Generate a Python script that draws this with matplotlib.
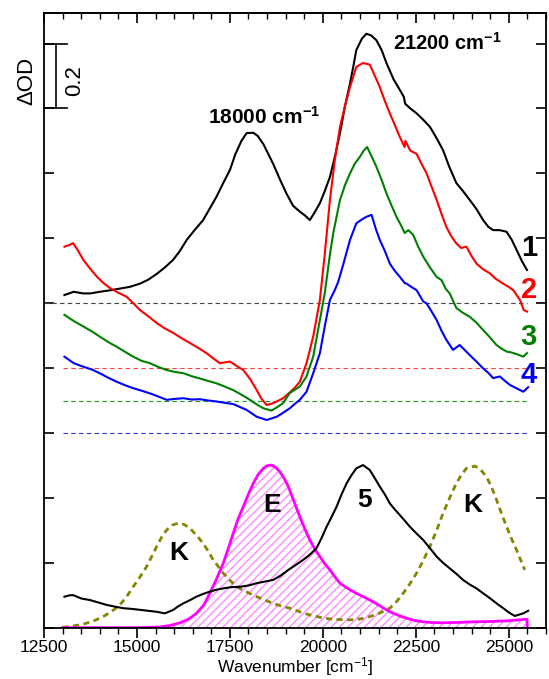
import numpy as np
import matplotlib
matplotlib.use('Agg')
import matplotlib.pyplot as plt
from matplotlib.ticker import MultipleLocator

plt.rcParams['font.family'] = ['Liberation Sans', 'DejaVu Sans']
plt.rcParams['mathtext.default'] = 'regular'

# spectrum 1 (black, offset 1.0)
c1_x = [13050, 13300, 13550, 13750, 14000, 14300, 14550, 14800, 15080, 15300, 15530, 15750,
        15970, 16150, 16340, 16550, 16780, 16950, 17140, 17320, 17500, 17650, 17810, 17950,
        18130, 18250, 18400, 18530, 18660, 18850, 19020, 19200, 19380, 19520, 19650, 19780,
        19920, 20050, 20190, 20320, 20460, 20600, 20730, 20820, 20900, 21050, 21170, 21300,
        21440, 21580, 21710, 21900, 22070, 22180, 22210, 22350, 22520, 22700, 22880, 23050,
        23230, 23400, 23590, 23770, 23950, 24130, 24310, 24450, 24580, 24750, 24940, 25080,
        25210, 25350, 25490]
c1_y = [1.025, 1.035, 1.030, 1.030, 1.035, 1.040, 1.045, 1.050, 1.060, 1.072, 1.090, 1.110,
        1.133, 1.160, 1.195, 1.225, 1.256, 1.290, 1.328, 1.370, 1.410, 1.460, 1.500, 1.524,
        1.525, 1.515, 1.490, 1.460, 1.430, 1.380, 1.338, 1.300, 1.282, 1.270, 1.256, 1.280,
        1.308, 1.345, 1.389, 1.450, 1.524, 1.610, 1.677, 1.730, 1.780, 1.815, 1.830, 1.825,
        1.810, 1.780, 1.740, 1.690, 1.657, 1.635, 1.615, 1.600, 1.585, 1.565, 1.543, 1.510,
        1.472, 1.420, 1.370, 1.345, 1.318, 1.290, 1.256, 1.235, 1.225, 1.225, 1.220, 1.195,
        1.164, 1.130, 1.102]

# spectrum 2 (red, offset 0.8)
c2_x = [13050, 13200, 13280, 13400, 13560, 13750, 13920, 14100, 14270, 14500, 14720, 14900,
        15080, 15300, 15530, 15750, 15980, 16200, 16430, 16650, 16870, 17050, 17230, 17500,
        17700, 17860, 18050, 18220, 18350, 18490, 18620, 18760, 18930, 19110, 19250, 19380,
        19560, 19740, 19920, 20050, 20190, 20320, 20460, 20600, 20730, 20900, 21080, 21260,
        21400, 21530, 21660, 21800, 21950, 22070, 22200, 22220, 22350, 22520, 22650, 22790,
        22920, 23060, 23190, 23320, 23460, 23590, 23720, 23860, 24000, 24130, 24300, 24490,
        24650, 24850, 25000, 25120, 25300, 25400, 25490]
c2_y = [1.174, 1.180, 1.185, 1.165, 1.133, 1.105, 1.082, 1.062, 1.047, 1.032, 1.020, 1.000,
        0.979, 0.960, 0.939, 0.922, 0.908, 0.892, 0.877, 0.862, 0.846, 0.830, 0.815, 0.820,
        0.805, 0.794, 0.765, 0.732, 0.705, 0.686, 0.690, 0.697, 0.707, 0.725, 0.740, 0.758,
        0.815, 0.897, 1.010, 1.150, 1.318, 1.440, 1.543, 1.610, 1.666, 1.728, 1.740, 1.735,
        1.700, 1.666, 1.625, 1.585, 1.545, 1.512, 1.481, 1.500, 1.470, 1.460, 1.430, 1.400,
        1.360, 1.318, 1.275, 1.235, 1.205, 1.184, 1.170, 1.174, 1.145, 1.122, 1.105, 1.092,
        1.075, 1.060, 1.050, 1.040, 1.010, 0.979, 0.974]

# spectrum 3 (green, offset 0.7)
c3_x = [13050, 13300, 13560, 13800, 14000, 14230, 14450, 14680, 14900, 15130, 15350, 15580,
        15800, 16020, 16250, 16470, 16690, 16920, 17140, 17360, 17590, 17810, 18040, 18220,
        18400, 18620, 18780, 18930, 19110, 19380, 19560, 19740, 19920, 20050, 20190, 20280,
        20460, 20600, 20730, 20860, 20990, 21100, 21190, 21320, 21440, 21580, 21710, 21850,
        21980, 22100, 22200, 22300, 22430, 22560, 22700, 22880, 23060, 23190, 23300, 23410,
        23590, 23770, 23950, 24130, 24310, 24490, 24670, 24800, 24940, 25070, 25210, 25390,
        25490]
c3_y = [0.964, 0.945, 0.928, 0.912, 0.897, 0.880, 0.866, 0.850, 0.835, 0.822, 0.815, 0.803,
        0.794, 0.788, 0.784, 0.775, 0.768, 0.760, 0.753, 0.743, 0.732, 0.718, 0.702, 0.688,
        0.676, 0.669, 0.680, 0.692, 0.723, 0.743, 0.774, 0.835, 0.948, 1.030, 1.150, 1.216,
        1.318, 1.365, 1.400, 1.430, 1.450, 1.470, 1.481, 1.450, 1.420, 1.380, 1.338, 1.300,
        1.266, 1.240, 1.216, 1.225, 1.210, 1.175, 1.143, 1.110, 1.081, 1.071, 1.045, 1.030,
        0.985, 0.970, 0.958, 0.940, 0.917, 0.895, 0.871, 0.860, 0.851, 0.848, 0.843, 0.835,
        0.846]

# spectrum 4 (blue, offset 0.6)
c4_x = [13050, 13300, 13560, 13800, 14000, 14230, 14450, 14680, 14900, 15130, 15350, 15580,
        15800, 16020, 16250, 16470, 16690, 16920, 17140, 17360, 17590, 17770, 17950, 18220,
        18490, 18760, 18930, 19110, 19250, 19380, 19560, 19740, 19920, 20050, 20190, 20320,
        20410, 20550, 20730, 20900, 21050, 21170, 21310, 21420, 21530, 21670, 21800, 21930,
        22070, 22200, 22250, 22380, 22520, 22700, 22790, 22920, 23060, 23190, 23320, 23500,
        23680, 23820, 23950, 24130, 24310, 24450, 24580, 24760, 24900, 25030, 25200, 25390,
        25520]
c4_y = [0.835, 0.815, 0.804, 0.795, 0.784, 0.770, 0.758, 0.747, 0.738, 0.730, 0.722, 0.712,
        0.702, 0.705, 0.707, 0.703, 0.704, 0.700, 0.697, 0.693, 0.689, 0.680, 0.671, 0.650,
        0.640, 0.650, 0.662, 0.676, 0.690, 0.702, 0.727, 0.784, 0.846, 0.928, 1.010, 1.040,
        1.065, 1.120, 1.195, 1.246, 1.258, 1.266, 1.272, 1.230, 1.195, 1.160, 1.122, 1.100,
        1.081, 1.062, 1.060, 1.050, 1.040, 1.005, 0.999, 0.975, 0.948, 0.915, 0.887, 0.856,
        0.871, 0.855, 0.840, 0.820, 0.799, 0.785, 0.769, 0.774, 0.760, 0.748, 0.738, 0.727,
        0.741]

# spectrum 5 (black, bottom panel)
c5_x = [13050, 13200, 13290, 13500, 13740, 13950, 14190, 14400, 14630, 14850, 15080, 15300,
        15530, 15750, 15980, 16100, 16250, 16430, 16600, 16780, 16960, 17140, 17320, 17550,
        17770, 18000, 18220, 18440, 18660, 18860, 19070, 19270, 19470, 19650, 19830, 19960,
        20100, 20230, 20370, 20500, 20640, 20770, 20900, 21080, 21260, 21400, 21530, 21670,
        21800, 21930, 22070, 22200, 22340, 22520, 22700, 22880, 23060, 23230, 23410, 23600,
        23770, 23950, 24130, 24310, 24490, 24670, 24850, 25000, 25160, 25270, 25390, 25520]
c5_y = [0.0955, 0.100, 0.100, 0.090, 0.085, 0.078, 0.070, 0.065, 0.060, 0.058, 0.055, 0.052,
        0.049, 0.044, 0.055, 0.065, 0.075, 0.085, 0.0955, 0.104, 0.111, 0.117, 0.121, 0.125,
        0.126, 0.130, 0.137, 0.142, 0.147, 0.160, 0.178, 0.193, 0.209, 0.225, 0.245, 0.275,
        0.311, 0.340, 0.373, 0.410, 0.445, 0.470, 0.491, 0.501, 0.486, 0.460, 0.435, 0.410,
        0.383, 0.365, 0.347, 0.330, 0.311, 0.290, 0.270, 0.245, 0.219, 0.200, 0.183, 0.165,
        0.147, 0.133, 0.121, 0.106, 0.091, 0.075, 0.060, 0.047, 0.036, 0.040, 0.044, 0.052]

# band E (magenta, hatched)
e_x = [13000, 14000, 15000, 15620, 15900, 16160, 16400, 16600, 16800, 16960, 17140, 17320,
       17460, 17590, 17720, 17860, 18000, 18130, 18260, 18400, 18500, 18620, 18730, 18840,
       18960, 19070, 19220, 19380, 19520, 19650, 19780, 19920, 20050, 20190, 20320, 20460,
       20680, 20900, 21130, 21350, 21580, 21800, 22030, 22250, 22470, 22700, 22920, 23150,
       23600, 24040, 24500, 24940, 25490, 25500]
e_y = [0.000, 0.000, 0.000, 0.002, 0.007, 0.015, 0.027, 0.044, 0.070, 0.106, 0.150, 0.198,
       0.245, 0.291, 0.335, 0.373, 0.412, 0.445, 0.472, 0.491, 0.499, 0.501, 0.494, 0.481,
       0.460, 0.435, 0.390, 0.342, 0.303, 0.270, 0.243, 0.219, 0.197, 0.178, 0.157, 0.137,
       0.120, 0.106, 0.093, 0.080, 0.064, 0.049, 0.038, 0.029, 0.022, 0.018, 0.016, 0.015,
       0.016, 0.018, 0.019, 0.021, 0.026, 0.000]

# band K (olive dashed)
k_x = [13000, 13280, 13560, 13820, 14090, 14320, 14540, 14720, 14900, 15080, 15260, 15400,
       15530, 15660, 15800, 15950, 16110, 16270, 16430, 16600, 16780, 16920, 17050, 17190,
       17320, 17500, 17680, 17950, 18220, 18440, 18660, 18870, 19110, 19380, 19650, 19920,
       20190, 20460, 20730, 21000, 21260, 21530, 21800, 21980, 22160, 22340, 22520, 22700,
       22880, 23060, 23230, 23410, 23590, 23730, 23860, 24090, 24240, 24400, 24530, 24670,
       24800, 24940, 25070, 25210, 25320, 25430]
k_y = [0.001, 0.005, 0.011, 0.020, 0.034, 0.050, 0.070, 0.095, 0.126, 0.156, 0.188, 0.220,
       0.250, 0.278, 0.301, 0.316, 0.322, 0.318, 0.306, 0.285, 0.260, 0.235, 0.209, 0.188,
       0.168, 0.146, 0.126, 0.110, 0.0955, 0.085, 0.075, 0.067, 0.060, 0.049, 0.039, 0.032,
       0.027, 0.025, 0.024, 0.027, 0.034, 0.045, 0.060, 0.080, 0.106, 0.135, 0.168, 0.207,
       0.250, 0.300, 0.352, 0.400, 0.445, 0.472, 0.491, 0.498, 0.487, 0.465, 0.435, 0.394,
       0.353, 0.311, 0.275, 0.239, 0.208, 0.178]

offsets = [1.0, 0.8, 0.7, 0.6]
offset_colors = ['#444444', '#ff4040', '#1f9a1f', '#3030d0']
offset_start = [12500, 13000, 13000, 13000]

fig = plt.figure(figsize=(5.49, 6.79), dpi=100)
ax = fig.add_axes([0.0801, 0.0756, 0.9144, 0.9057])

for off, col, xs in zip(offsets, offset_colors, offset_start):
    ax.plot([xs, 25500], [off, off], ls=(0, (4, 3)), color=col, lw=0.8)

ax.fill_between(e_x, 0, e_y, facecolor='none', edgecolor='#ff8cff', hatch='////', lw=0)
ax.plot(k_x, k_y, color='#858500', lw=2, ls=(0, (2.2, 1.6)))
ax.plot(e_x, e_y, color='#ff00ff', lw=2)
ax.plot(c5_x, c5_y, color='black', lw=1.5)

ax.plot(c1_x, c1_y, color='black', lw=1.5)
ax.plot(c2_x, c2_y, color='#ff0000', lw=1.5)
ax.plot(c3_x, c3_y, color='#008000', lw=1.5)
ax.plot(c4_x, c4_y, color='#0000ff', lw=1.5)

ax.set_xlim(12500, 26000)
ax.set_ylim(0, 1.895)

ax.xaxis.set_major_locator(MultipleLocator(2500))
ax.xaxis.set_minor_locator(MultipleLocator(500))
ax.yaxis.set_major_locator(MultipleLocator(0.2))
ax.tick_params(axis='x', which='major', direction='out', length=7, width=1.2, labelsize=12.5, top=False, pad=2)
ax.tick_params(axis='x', which='minor', direction='out', length=4, width=1.0, top=False)
ax.tick_params(axis='y', which='major', direction='in', length=7, width=1.2, left=True, right=True, labelleft=False)
for s in ax.spines.values():
    s.set_linewidth(1.3)

top = ax.secondary_xaxis('top')
top.xaxis.set_major_locator(MultipleLocator(2500))
top.xaxis.set_minor_locator(MultipleLocator(500))
top.tick_params(which='major', direction='in', length=7, width=1.2, labeltop=False)
top.tick_params(which='minor', direction='in', length=4, width=1.0)
top.spines['top'].set_linewidth(1.3)

ax.set_xlabel('Wavenumber [cm$^{-1}$]', fontsize=12.5, labelpad=0)
ax.text(-0.035, 1.685, 'ΔOD', rotation=90, ha='center', va='center', fontsize=16,
        transform=ax.get_yaxis_transform())

# scale bar
ax.plot([12823, 12823], [1.6, 1.8], color='black', lw=1.2, clip_on=False)
ax.plot([12500, 13118], [1.6, 1.6], color='black', lw=1.2, clip_on=False)
ax.plot([12500, 13118], [1.8, 1.8], color='black', lw=1.2, clip_on=False)
ax.text(13333, 1.685, '0.2', rotation=90, ha='center', va='center', fontsize=16)

ax.text(16908, 1.573, '18000 cm$^{-1}$', ha='left', va='center', fontsize=15, fontweight='bold')
ax.text(21881, 1.802, '21200 cm$^{-1}$', ha='left', va='center', fontsize=14.5, fontweight='bold')

for lab, yy, col in zip(['1', '2', '3', '4'], [1.17, 1.04, 0.895, 0.778],
                        ['black', '#ff0000', '#008000', '#0000ff']):
    ax.text(25537, yy, lab, ha='center', va='center', fontsize=21, fontweight='bold', color=col)

ax.text(18629, 0.378, 'E', ha='center', va='center', fontsize=19, fontweight='bold')
ax.text(16129, 0.23, 'K', ha='center', va='center', fontsize=19, fontweight='bold')
ax.text(21129, 0.393, '5', ha='center', va='center', fontsize=19, fontweight='bold')
ax.text(24032, 0.378, 'K', ha='center', va='center', fontsize=19, fontweight='bold')

fig.savefig('out.png', dpi=100)
